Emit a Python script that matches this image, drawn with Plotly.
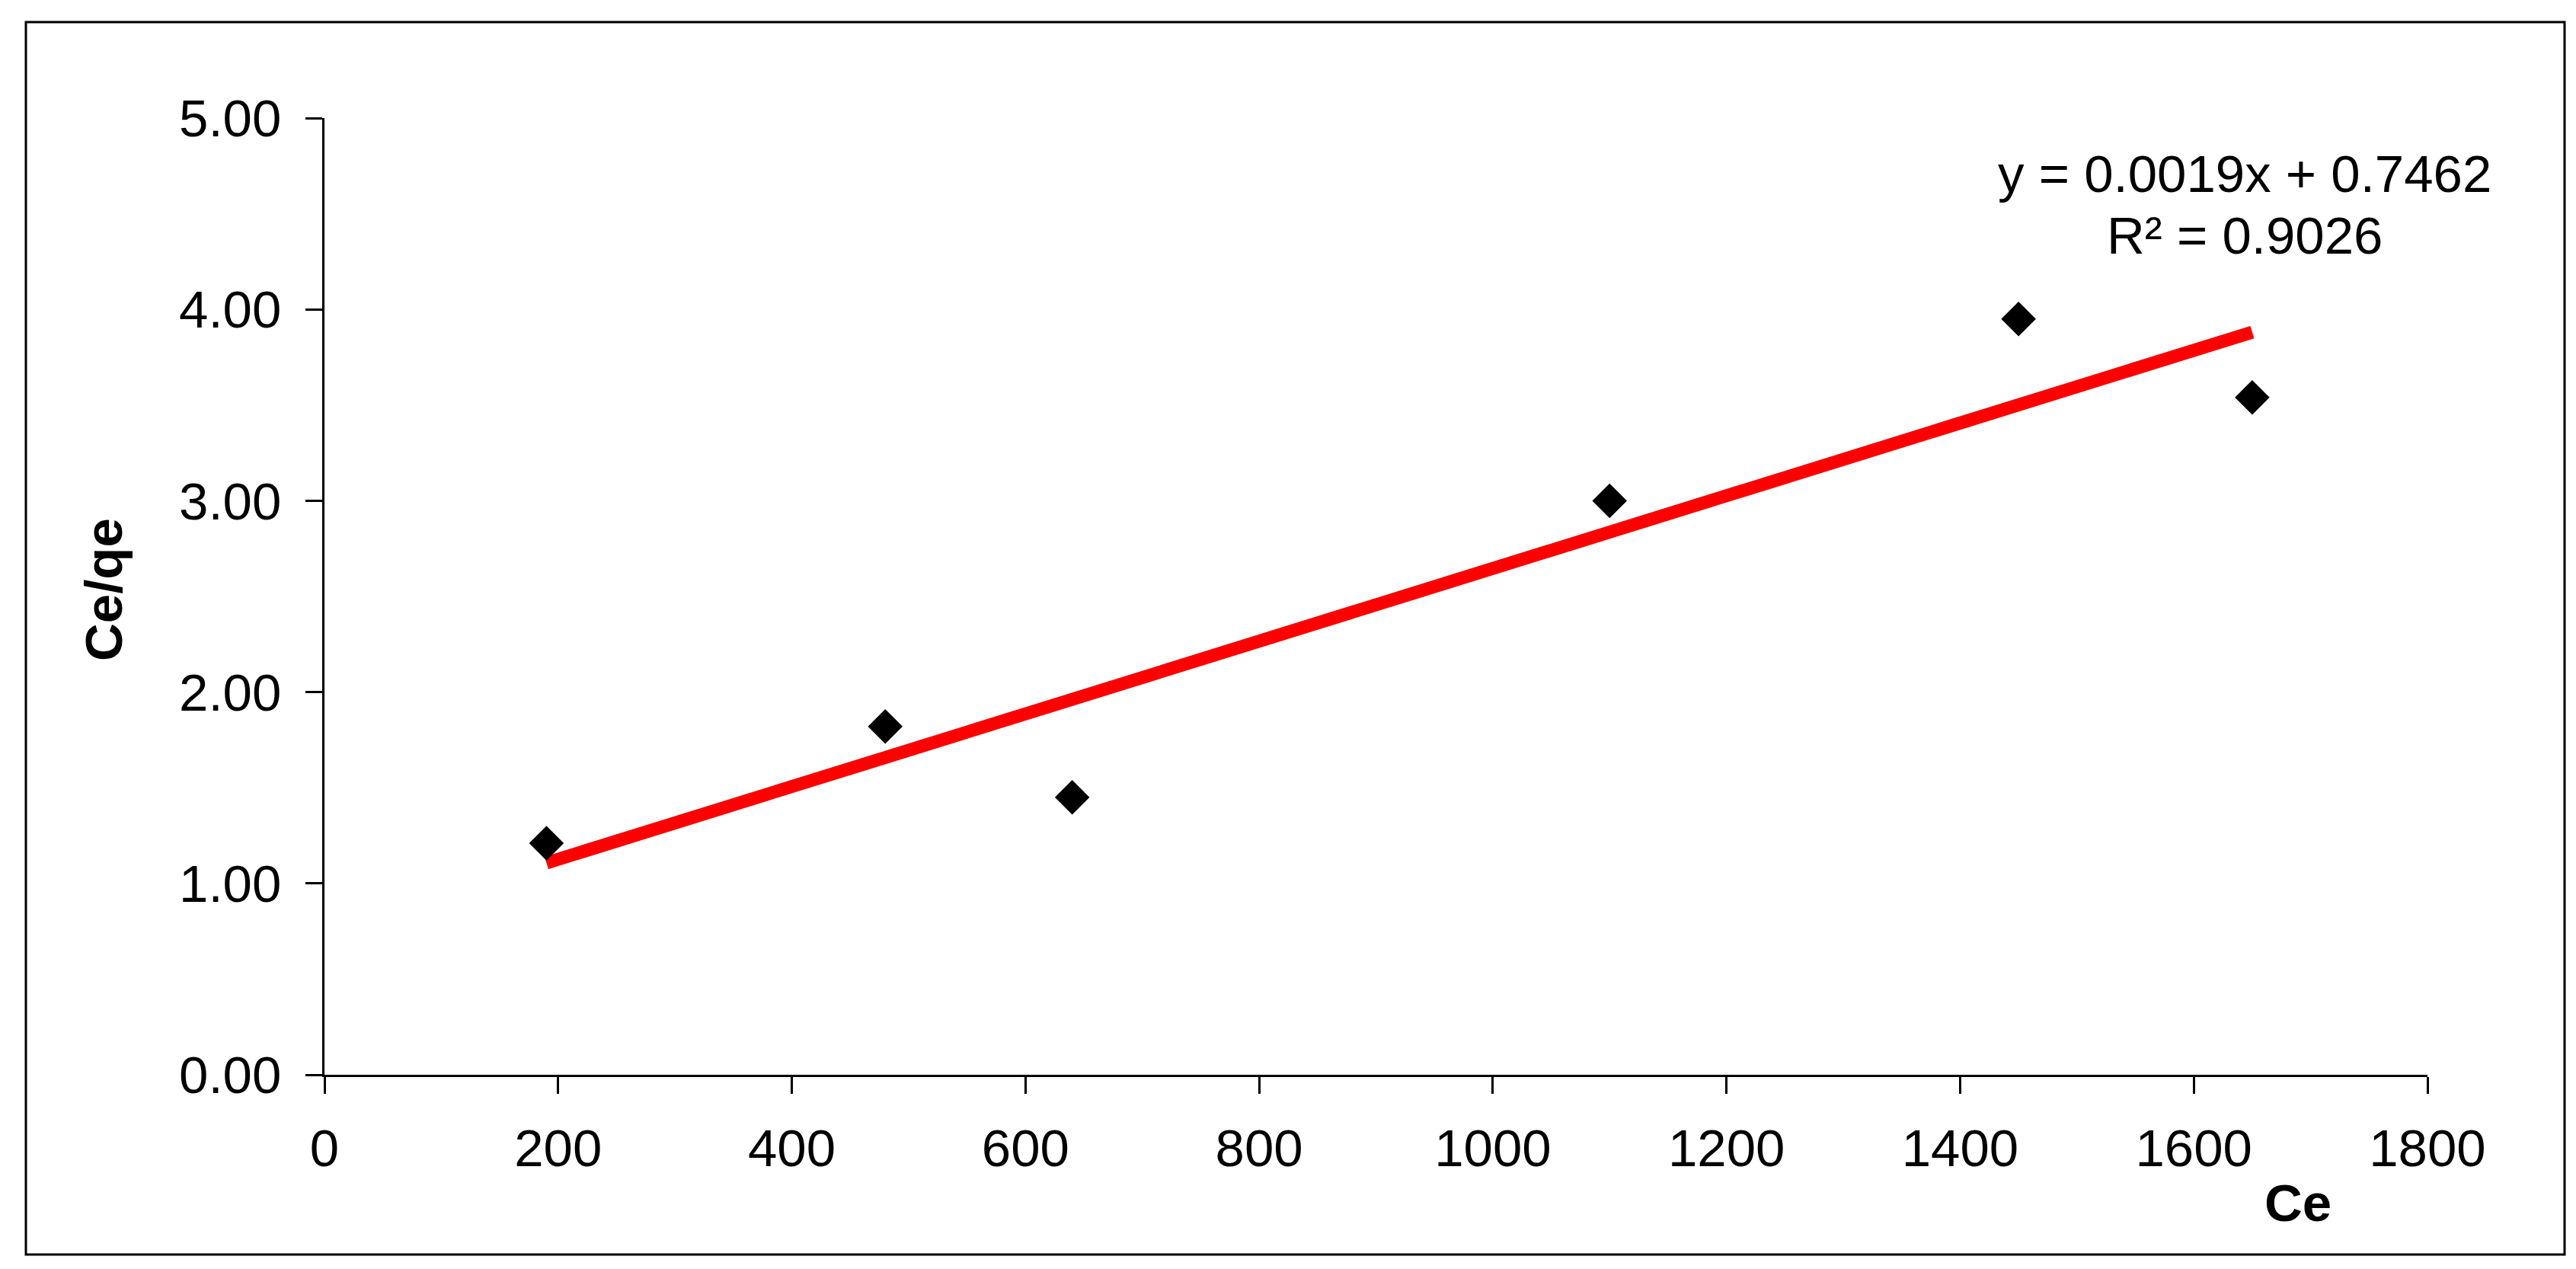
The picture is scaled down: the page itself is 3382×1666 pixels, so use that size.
import plotly.graph_objects as go

# ---- data ----
ce = [190, 480, 640, 1100, 1450, 1650]
ce_qe = [1.21, 1.82, 1.45, 3.00, 3.95, 3.54]
slope = 0.0019
intercept = 0.7462
r2 = 0.9026
x_ticks = [0, 200, 400, 600, 800, 1000, 1200, 1400, 1600, 1800]
y_ticks = [0, 1, 2, 3, 4, 5]

# ---- layout geometry (pixels) ----
W, H = 3382, 1666
L, R, T, B = 418, 3179, 147, 1403
FONT = "Liberation Sans, Arial, sans-serif"
FS = 69


def px(x):
    return (x - L) / (R - L)


def py(y):
    return (B - y) / (B - T)


trend_x = [min(ce), max(ce)]
trend_y = [slope * v + intercept for v in trend_x]

fig = go.Figure()
fig.add_trace(go.Scatter(x=trend_x, y=trend_y, mode="lines",
                         line=dict(color="#ff0000", width=17),
                         showlegend=False, hoverinfo="skip"))
fig.add_trace(go.Scatter(x=ce, y=ce_qe, mode="markers",
                         marker=dict(symbol="diamond", size=35, color="black",
                                     line=dict(width=0)),
                         showlegend=False))

axis_common = dict(showgrid=False, zeroline=False, showline=True,
                   linecolor="black", linewidth=2.7, ticks="outside",
                   ticklen=22, tickwidth=2.7, tickcolor="black",
                   tickfont=dict(family=FONT, size=FS, color="black"))

fig.update_xaxes(range=[0, 1800], tickvals=x_ticks, ticklabelstandoff=12,
                 **axis_common)
fig.update_yaxes(range=[0, 5], tickvals=y_ticks, tickformat=".2f",
                 ticklabelstandoff=18, **axis_common)

fig.update_layout(
    width=W, height=H,
    margin=dict(l=L, r=W - R, t=T, b=H - B),
    paper_bgcolor="white", plot_bgcolor="white",
    font=dict(family=FONT, size=FS, color="black"),
    shapes=[dict(type="rect", xref="paper", yref="paper",
                 x0=px(26), x1=px(3359), y0=py(1639), y1=py(21),
                 line=dict(color="black", width=3), fillcolor="rgba(0,0,0,0)",
                 layer="below")],
    annotations=[
        dict(text="<b>Ce</b>", xref="paper", yref="paper", x=px(3009), y=py(1572),
             xanchor="center", yanchor="middle", showarrow=False,
             font=dict(family=FONT, size=FS, color="black")),
        dict(text="<b>Ce/qe</b>", xref="paper", yref="paper", x=px(128), y=py(766),
             xanchor="center", yanchor="middle", showarrow=False, textangle=-90,
             font=dict(family=FONT, size=FS, color="black")),
        dict(text=f"y = {slope:.4f}x + {intercept:.4f}", xref="paper", yref="paper",
             x=px(2939), y=py(220), xanchor="center", yanchor="middle",
             showarrow=False, font=dict(family=FONT, size=FS, color="black")),
        dict(text=f"R² = {r2:.4f}", xref="paper", yref="paper",
             x=px(2939), y=py(301), xanchor="center", yanchor="middle",
             showarrow=False, font=dict(family=FONT, size=FS, color="black")),
    ],
)

fig.write_html("out.html")
